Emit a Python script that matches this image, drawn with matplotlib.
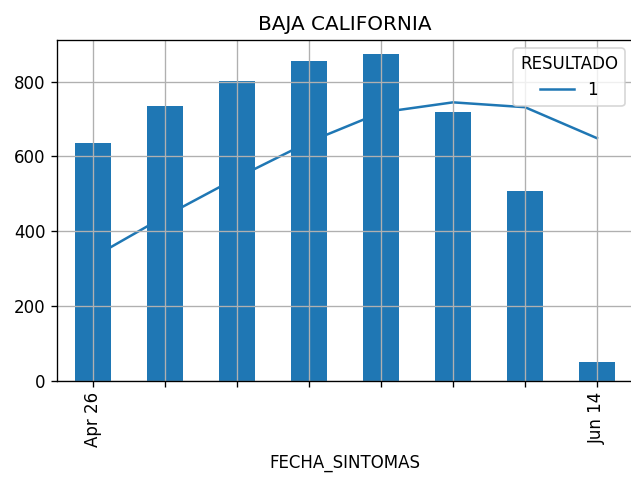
import matplotlib
matplotlib.use("Agg")
import matplotlib.pyplot as plt
import numpy as np

# Data
fechas = ["Apr 26", "May 03", "May 10", "May 17", "May 24", "May 31", "Jun 07", "Jun 14"]
tick_labels = ["Apr 26", "", "", "", "", "", "", "Jun 14"]
casos = [636, 734, 801, 855, 874, 720, 508, 49]
promedio = [330, 440, 543, 639, 718, 745, 732, 649]

DPI = 120
fig = plt.figure(figsize=(631 / DPI, 479 / DPI), dpi=DPI)
ax = fig.add_axes([57 / 631, (479 - 380.5) / 479, 576 / 631, 340.5 / 479])

x = np.arange(len(fechas))
line, = ax.plot(x, promedio, color="#1f77b4", linewidth=1.5, zorder=0.9, label="1")
ax.bar(x, casos, width=0.5, color="#1f77b4", zorder=1)

ax.set_xlim(-0.5, len(fechas) - 0.5)
ax.set_ylim(0, 912)
ax.set_yticks([0, 200, 400, 600, 800])
ax.set_xticks(x)
ax.set_xticklabels(tick_labels, rotation=90)
ax.grid(True)
ax.set_xlabel("FECHA_SINTOMAS")
ax.set_title("BAJA CALIFORNIA")
ax.legend(handles=[line], title="RESULTADO", loc="upper right")

fig.savefig("out.png", dpi=DPI)
